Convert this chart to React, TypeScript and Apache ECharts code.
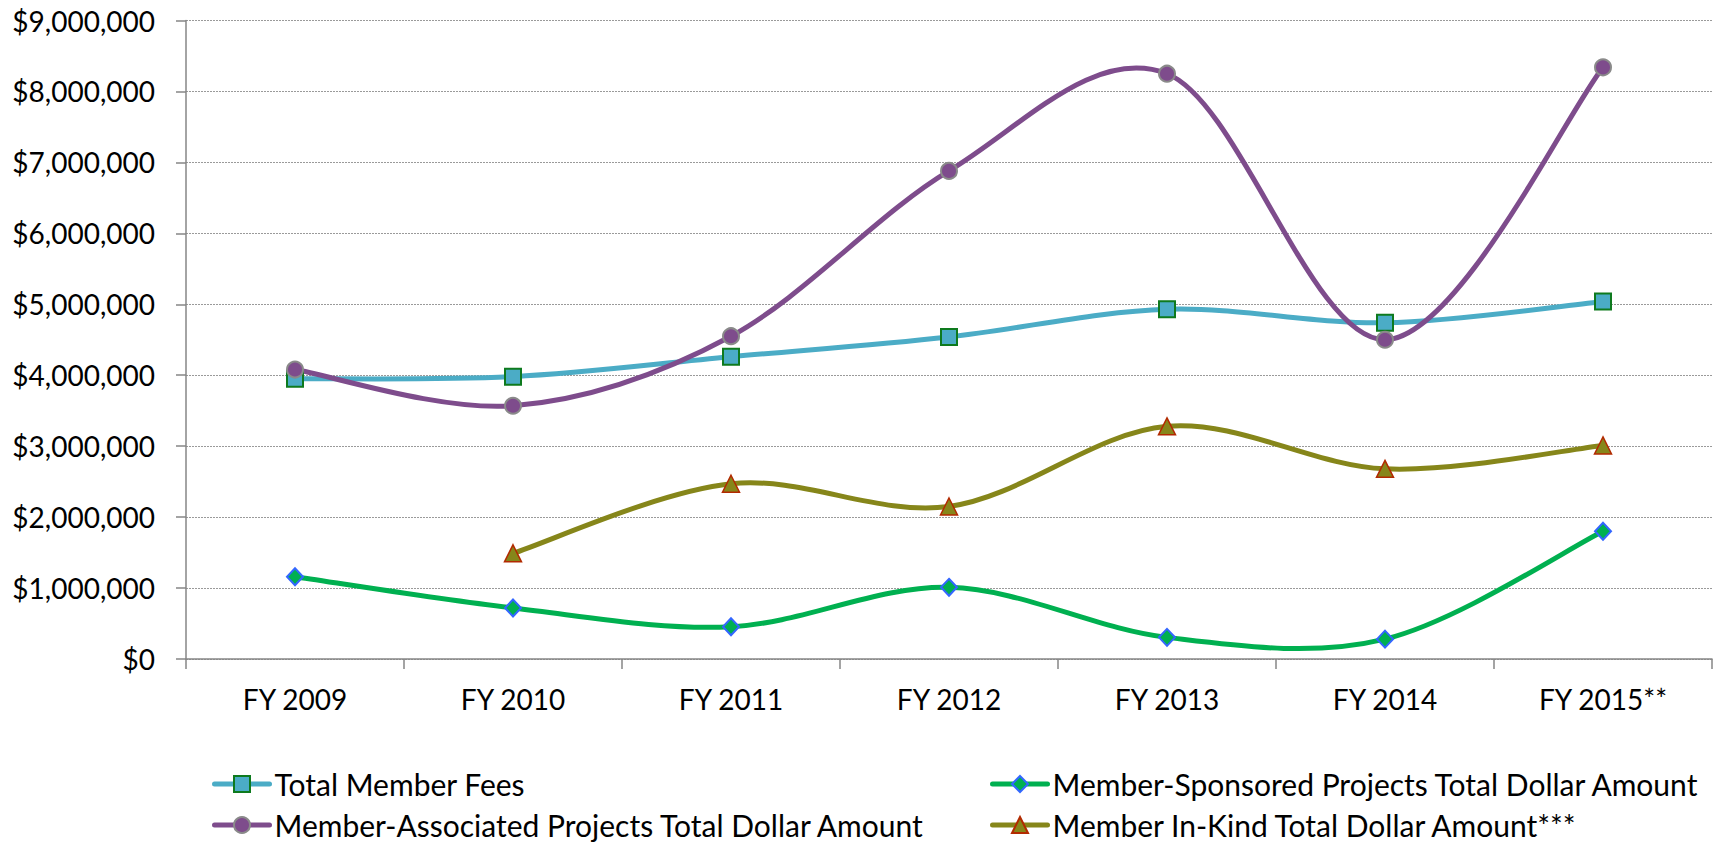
import React, { useEffect, useRef } from "react";
import * as echarts from "echarts";

const categories = ["FY 2009", "FY 2010", "FY 2011", "FY 2012", "FY 2013", "FY 2014", "FY 2015**"];
const totalMemberFees = [3950000, 3980000, 4260000, 4540000, 4930000, 4740000, 5040000];
const memberSponsored = [1160000, 720000, 455000, 1010000, 305000, 280000, 1800000];
const memberAssociated = [4080000, 3570000, 4550000, 6880000, 8250000, 4500000, 8340000];
const memberInKind = [null, 1490000, 2470000, 2150000, 3280000, 2680000, 3010000];
const seriesNames = [
  "Total Member Fees",
  "Member-Sponsored Projects Total Dollar Amount",
  "Member-Associated Projects Total Dollar Amount",
  "Member In-Kind Total Dollar Amount***",
];
const yTicks = { min: 0, max: 9000000, interval: 1000000 };

const FONT = "Lato";
const FS = 28;
const LEGEND_FS = 30;

function fmt(v: number) {
  return "$" + v.toLocaleString("en-US");
}

type Val = number | null;

// Smooth curve (Excel-like Catmull-Rom bezier) drawn through the axes' own coordinate system
function curveSeries(name: string, arr: Val[], color: string) {
  const data: any[] = [];
  for (let i = 0; i < arr.length - 1; i++) {
    if (arr[i] != null && arr[i + 1] != null) data.push({ value: [i, arr[i]] });
  }
  return {
    name,
    type: "custom",
    z: 1,
    silent: true,
    data,
    renderItem: (params: any, api: any) => {
      const i = api.value(0) as number;
      const pt = (k: number) => (k >= 0 && k < arr.length && arr[k] != null ? api.coord([k, arr[k]]) : null);
      const p1 = pt(i);
      const p2 = pt(i + 1);
      const p0 = pt(i - 1) || p1;
      const p3 = pt(i + 2) || p2;
      const f = 1 / 6;
      const cp1 = [p1[0] + (p2[0] - p0[0]) * f, p1[1] + (p2[1] - p0[1]) * f];
      const cp2 = [p2[0] - (p3[0] - p1[0]) * f, p2[1] - (p3[1] - p1[1]) * f];
      return {
        type: "bezierCurve",
        shape: {
          x1: p1[0], y1: p1[1],
          x2: p2[0], y2: p2[1],
          cpx1: cp1[0], cpy1: cp1[1],
          cpx2: cp2[0], cpy2: cp2[1],
        },
        style: { stroke: color, lineWidth: 5, fill: null, lineCap: "round" },
      };
    },
  };
}

export default function App() {
  const ref = useRef<HTMLDivElement>(null);
  useEffect(() => {
    if (!ref.current) return;
    const chart = echarts.init(ref.current, undefined, { renderer: "svg" });
    const colors = ["#4BACC6", "#00B050", "#7E4C8C", "#86861A"];
    const legendCommon = {
      orient: "vertical",
      top: 769,
      height: 90,
      padding: 0,
      itemWidth: 55,
      itemHeight: 20,
      itemGap: 11,
      textStyle: { color: "#000", fontSize: LEGEND_FS, fontFamily: FONT, lineHeight: 26 },
      lineStyle: { width: 5, opacity: 1, cap: "round" },
    };
    const markerLine = (name: string, data: Val[], color: string, symbol: string, size: any, itemStyle: any) => ({
      name,
      type: "line",
      z: 3,
      data,
      symbol,
      symbolSize: size,
      showSymbol: true,
      lineStyle: { color, width: 5, opacity: 0 },
      itemStyle,
    });
    chart.setOption({
      animation: false,
      textStyle: { fontFamily: FONT },
      grid: { left: 186, right: 3, top: 20.5, bottom: 183 },
      xAxis: {
        type: "category",
        data: categories,
        boundaryGap: true,
        axisLine: { lineStyle: { color: "#868686", width: 1.5 } },
        axisTick: { show: true, length: 10, alignWithLabel: false, lineStyle: { color: "#868686", width: 1.5 } },
        axisLabel: { color: "#000", fontSize: FS, fontFamily: FONT, margin: 26 },
        splitLine: { show: false },
      },
      yAxis: {
        type: "value",
        min: yTicks.min,
        max: yTicks.max,
        interval: yTicks.interval,
        axisLine: { show: true, lineStyle: { color: "#868686", width: 1.5 } },
        axisTick: { show: true, length: 10, lineStyle: { color: "#868686", width: 1.5 } },
        axisLabel: { color: "#000", fontSize: FS, fontFamily: FONT, margin: 31, formatter: (v: number) => fmt(v) },
        splitLine: { show: true, lineStyle: { color: "#9a9a9a", type: [2, 1], width: 1 } },
      },
      legend: [
        { ...legendCommon, left: 212, data: [seriesNames[0], seriesNames[2]] },
        { ...legendCommon, left: 990, data: [seriesNames[1], seriesNames[3]] },
      ],
      series: [
        curveSeries("c0", totalMemberFees, colors[0]),
        curveSeries("c1", memberSponsored, colors[1]),
        curveSeries("c2", memberAssociated, colors[2]),
        curveSeries("c3", memberInKind, colors[3]),
        markerLine(seriesNames[0], totalMemberFees, colors[0], "rect", 16, {
          color: colors[0], borderColor: "#0E7A1E", borderWidth: 2,
        }),
        markerLine(seriesNames[1], memberSponsored, colors[1], "diamond", [16, 17], {
          color: colors[1], borderColor: "#3366FF", borderWidth: 2,
        }),
        markerLine(seriesNames[2], memberAssociated, colors[2], "circle", 16, {
          color: colors[2], borderColor: "#8A8A8A", borderWidth: 2,
        }),
        markerLine(seriesNames[3], memberInKind, colors[3], "triangle", 17, {
          color: colors[3], borderColor: "#B22A00", borderWidth: 1.5,
        }),
      ],
    });
    return () => chart.dispose();
  }, []);
  return (
    <div
      ref={ref}
      style={{ position: "fixed", left: 0, top: 0, width: 1715, height: 842, background: "#fff" }}
    />
  );
}
